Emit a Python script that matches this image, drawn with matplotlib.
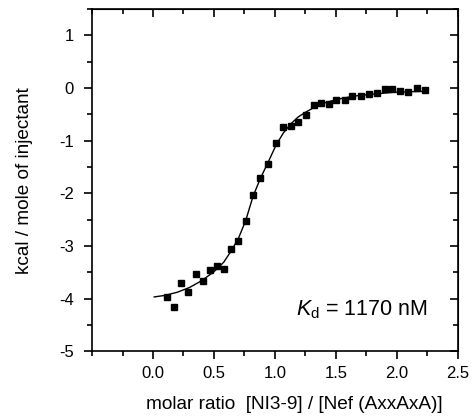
import matplotlib
matplotlib.use("Agg")
import matplotlib.pyplot as plt
from matplotlib.ticker import MultipleLocator

plt.rcParams['font.family'] = ['Liberation Sans', 'DejaVu Sans']
plt.rcParams['axes.unicode_minus'] = False
plt.rcParams['mathtext.fontset'] = 'custom'
plt.rcParams['mathtext.rm'] = 'Liberation Sans'
plt.rcParams['mathtext.it'] = 'Liberation Sans:italic'

# measured points
ratio = [0.114, 0.174, 0.231, 0.289, 0.349, 0.409, 0.466, 0.523, 0.581, 0.640,
         0.700, 0.760, 0.818, 0.880, 0.946, 1.008, 1.068, 1.128, 1.188, 1.253,
         1.319, 1.381, 1.441, 1.504, 1.572, 1.635, 1.703, 1.768, 1.834, 1.899,
         1.962, 2.027, 2.095, 2.163, 2.232]
heat = [-3.98, -4.16, -3.70, -3.88, -3.54, -3.66, -3.46, -3.38, -3.44, -3.05,
        -2.91, -2.52, -2.04, -1.70, -1.44, -1.04, -0.74, -0.72, -0.65, -0.51,
        -0.32, -0.28, -0.31, -0.23, -0.23, -0.15, -0.15, -0.11, -0.10, -0.01,
        -0.01, -0.05, -0.08, 0.01, -0.03]

# fitted curve
fit_x = [0.01, 0.10, 0.20, 0.30, 0.40, 0.50, 0.58, 0.64, 0.70, 0.76, 0.82, 0.88,
         0.95, 1.01, 1.07, 1.13, 1.19, 1.25, 1.32, 1.42, 1.56, 1.69, 1.83, 1.97,
         2.10, 2.24]
fit_y = [-3.97, -3.94, -3.88, -3.79, -3.66, -3.49, -3.31, -3.10, -2.86, -2.52,
         -2.06, -1.72, -1.38, -1.08, -0.85, -0.68, -0.55, -0.46, -0.37, -0.27,
         -0.19, -0.14, -0.11, -0.08, -0.07, -0.06]

xticks = [0.0, 0.5, 1.0, 1.5, 2.0, 2.5]
xticklabels = ['0.0', '0.5', '1.0', '1.5', '2.0', '2.5']
yticks = [-5, -4, -3, -2, -1, 0, 1]
yticklabels = ['-5', '-4', '-3', '-2', '-1', '0', '1']

fig = plt.figure(figsize=(4.72, 4.17), dpi=100)
ax = fig.add_axes([0.195, 0.158, 0.775, 0.820])

ax.plot(fit_x, fit_y, color='black', lw=1.0)
ax.plot(ratio, heat, 's', color='black', ms=4.4, mec='black')

ax.set_xlim(-0.5, 2.5)
ax.set_ylim(-5, 1.5)
ax.set_xticks(xticks)
ax.set_xticklabels(xticklabels)
ax.set_yticks(yticks)
ax.set_yticklabels(yticklabels)
ax.xaxis.set_minor_locator(MultipleLocator(0.25))
ax.yaxis.set_minor_locator(MultipleLocator(0.5))

for s in ax.spines.values():
    s.set_linewidth(1.2)

ax.tick_params(axis='both', which='major', direction='out', length=6, width=1.2,
               labelsize=12, pad=5)
ax.tick_params(axis='y', which='major', pad=7)
ax.tick_params(axis='both', which='minor', direction='out', length=3.5, width=1.2)

# top / right inward ticks
axt = ax.secondary_xaxis('top')
axt.set_xticks(xticks)
axt.xaxis.set_minor_locator(MultipleLocator(0.25))
axt.tick_params(which='major', direction='in', length=6, width=1.2, labeltop=False)
axt.tick_params(which='minor', direction='in', length=3.5, width=1.2)
axr = ax.secondary_yaxis('right')
axr.set_yticks(yticks)
axr.yaxis.set_minor_locator(MultipleLocator(0.5))
axr.tick_params(which='major', direction='in', length=6, width=1.2, labelright=False)
axr.tick_params(which='minor', direction='in', length=3.5, width=1.2)

ax.set_xlabel('molar ratio  [NI3-9] / [Nef (AxxAxA)]', fontsize=13.7)
ax.xaxis.set_label_coords(0.552, -0.155)
ax.xaxis.label.set_va('center')
ax.set_ylabel('kcal / mole of injectant', fontsize=13.7)
ax.yaxis.set_label_coords(-0.186, 0.5)
ax.yaxis.label.set_va('center')

ax.text(2.25, -4.22, r'$K_\mathrm{d}$ = 1170 nM', fontsize=15.5, ha='right', va='center')

fig.savefig('out.png', dpi=100)
